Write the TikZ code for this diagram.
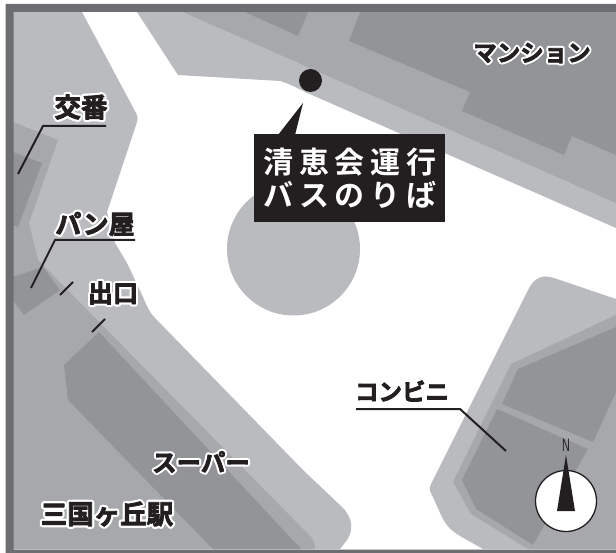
\documentclass[tikz,border=0pt]{standalone}
\usepackage{fontspec}
\setmainfont{Noto Sans CJK JP}
\newfontfamily\halofont[FakeBold=20]{Noto Sans CJK JP Bold}
\newfontfamily\labelfont[FakeBold=3]{Noto Sans CJK JP Bold}
\newfontfamily\signfont[LetterSpace=19]{Noto Sans CJK JP Bold}
\newfontfamily\northfont{Liberation Sans}
\definecolor{lightg}{HTML}{B9BBBE}
\definecolor{midg}{HTML}{A6A8AB}
\definecolor{darkg}{HTML}{929497}
\definecolor{frameg}{HTML}{6D6E71}
\definecolor{ink}{HTML}{231F20}
\newcommand{\halotext}[2]{\fontsize{#1}{#1}\selectfont\rlap{\halofont\color{white}#2}{\labelfont\color{ink}#2}}
\tikzset{
  lightarea/.style={fill=lightg,draw=none},
  midarea/.style={fill=midg,draw=none},
  darkarea/.style={fill=darkg,draw=none},
  leader/.style={draw=ink,line width=2pt},
  maplabel/.style={inner sep=0pt,outer sep=0pt,anchor=center},
  signtext/.style={inner sep=0pt,text=white,anchor=center},
}
\begin{document}
\begin{tikzpicture}[x=1pt,y=-1pt,line join=round]
\useasboundingbox (0,0) rectangle (616,553);
\fill[white] (0,0) rectangle (616,553);
% upper road edge
\path[lightarea] (137,12) -- (178,75) -- (280,81) .. controls (290,84) and (295,87) .. (305,92) -- (616,228) -- (616,12) -- cycle;
\path[midarea] (183,12) -- (616,203) -- (616,12) -- cycle;
\path[darkarea] (245,12) -- (298,36) -- (308,12) -- cycle;
\path[darkarea] (360,12) -- (349,41) -- (470,92) -- (462,111) -- (564,155) -- (572,136) -- (616,155) -- (616,12) -- cycle;
% plaza circle
\fill[lightg] (293.5,249) circle[radius=66.5];
% left blocks
\path[lightarea] (13,12) -- (82,12) -- (136,113) .. controls (138,117) and (138,119) .. (137,122) -- (107,212) -- (115,243) -- (127,263) -- (143,297) .. controls (147,307) and (150,313) .. (155,318) -- (303,470) -- (342,507) .. controls (354,519) and (353,531) .. (347,540) -- (340,549) -- (13,549) -- cycle;
\path[midarea] (13,122) -- (58,140) -- (29,223) -- (38,260) -- (312,538) .. controls (314,541) and (315,545) .. (315,549) -- (13,549) -- cycle;
\path[darkarea] (13,152) -- (42,163) -- (18,227) -- (13,225) -- cycle;
\path[darkarea] (13,277) -- (43,267) -- (60,290) -- (24,315) -- (13,300) -- cycle;
\path[darkarea] (99,332) -- (64,365) -- (68,400) -- (213,549) -- (301,549) -- cycle;
% convenience store block
\path[lightarea] (616,299) -- (554,278) .. controls (542,274) and (534,278) .. (528,290) -- (432,482) .. controls (429,488) and (429,490) .. (432,495) -- (441,515) .. controls (445,524) and (450,530) .. (460,536) -- (483,549) -- (616,549) -- cycle;
\path[midarea] (511,364) -- (616,315) -- (616,549) -- (528,549) -- (471,514) -- (453,482) -- cycle;
\path[darkarea] (518,369) -- (616,327) -- (616,392) -- (593,442) -- (502,404) -- cycle;
\path[darkarea] (497,409) -- (588,449) -- (533,545) -- (476,509) -- (462,480) -- cycle;
% frame
\fill[frameg,even odd rule] (5.5,4) rectangle (616,553) (13.5,12) rectangle (616,549.5);
% bus stop
\fill[ink] (310.5,80.5) circle[radius=11.5];
\fill[ink] (303,103) -- (278,135) -- (295,135) -- cycle;
\node[fill=ink,minimum width=191pt,minimum height=88pt,inner sep=0pt,anchor=north west] (sign) at (254,134) {};
\node[signtext] (signa) at (350,162) {\fontsize{30}{30}\selectfont\signfont 清恵会運行};
\node[signtext] (signb) at (350,195) {\fontsize{30}{30}\selectfont\signfont バスのりば};
% leaders
\draw[leader] (18,174) -- (43,126) -- (106,126);
\draw[leader] (31,288) -- (55,240) -- (135,240);
\draw[leader] (60,295) -- (73,282);
\draw[leader] (92,332) -- (105,319);
\draw[leader] (356,409) -- (460,409) -- (506,451);
% labels
\node[maplabel] (koban) at (81,107) {\halotext{26.5}{交番}};
\node[maplabel] (pan) at (95,224) {\halotext{26}{パン屋}};
\node[maplabel] (exit) at (113,293) {\halotext{25}{出口}};
\node[maplabel] (mansion) at (532,53) {\halotext{23.5}{マンション}};
\node[maplabel] (conv) at (402,391) {\halotext{23.5}{コンビニ}};
\node[maplabel] (super) at (201,462) {\halotext{24.5}{スーパー}};
\node[maplabel] (station) at (107,514) {\halotext{26.5}{三国ヶ丘駅}};
% compass
\draw[ink,fill=white,line width=1.3pt] (566,501) circle[radius=30.5];
\fill[ink] (566,455) -- (557,511) -- (575,511) -- cycle;
\node[inner sep=0pt,text=ink,xscale=0.6] (north) at (566,445) {\fontsize{18}{18}\selectfont\northfont N};
\end{tikzpicture}
\end{document}
